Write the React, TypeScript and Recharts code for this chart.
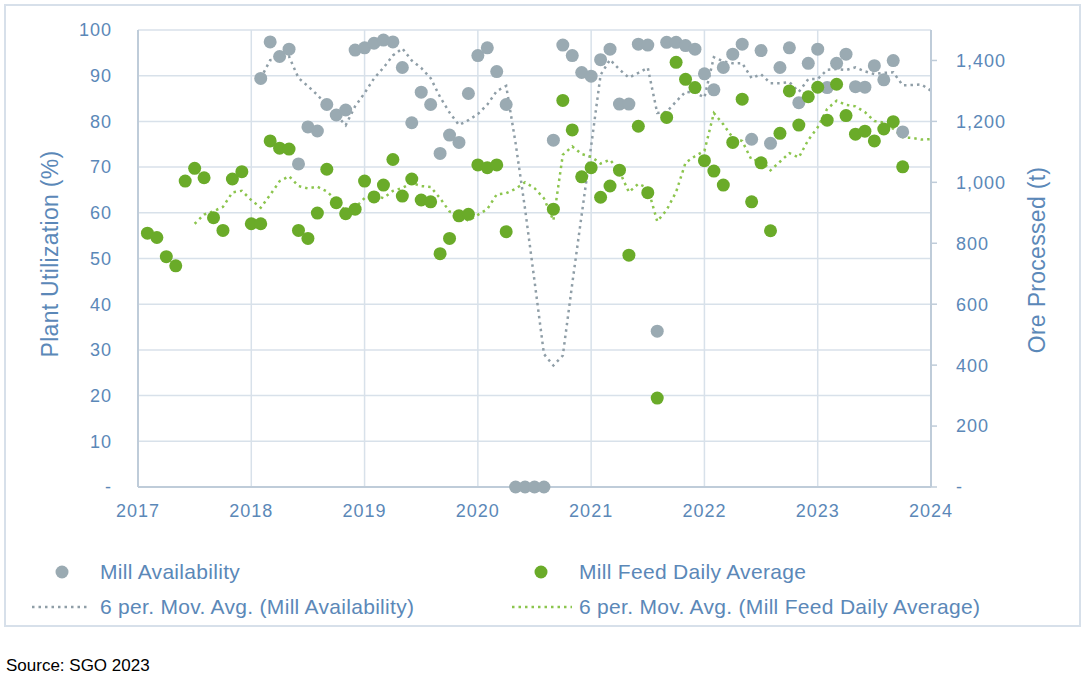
import React from "react";
import {
  ComposedChart,
  Scatter,
  Line,
  XAxis,
  YAxis,
  CartesianGrid,
} from "recharts";

// monthly readings, first entry = Feb 2017, last = Jan 2024 (null = no reading)
const millAvailability: (number | null)[] = [
  // 2017 Feb-Dec
  null, null, null, null, null, null, null, null, null, null, null,
  // 2018
  null, 89.4, 97.4, 94.2, 95.8, 70.7, 78.8, 77.9, 83.7, 81.4, 82.5, 95.6,
  // 2019
  96.1, 97.1, 97.8, 97.4, 91.8, 79.7, 86.4, 83.7, 73.0, 77.0, 75.4, 86.1,
  // 2020
  94.4, 96.1, 90.9, 83.7, 0, 0, 0, 0, 75.9, 96.7, 94.4, 90.7,
  // 2021
  89.9, 93.5, 95.8, 83.8, 83.8, 96.9, 96.7, 34.1, 97.3, 97.3, 96.6, 95.8,
  // 2022
  90.4, 86.9, 91.8, 94.7, 96.9, 76.1, 95.5, 75.2, 91.8, 96.1, 84.1, 92.7,
  // 2023
  95.8, 87.4, 92.7, 94.7, 87.6, 87.5, 92.2, 89.1, 93.3, 77.7, null, null,
  // 2024 Jan
  null,
];

// tonnes per day
const millFeed: (number | null)[] = [
  // 2017 Feb-Dec
  833, 819, 756, 726, 1004, 1046, 1015, 884, 842, 1011, 1035,
  // 2018
  864, 864, 1136, 1112, 1109, 842, 816, 899, 1043, 933, 897, 912,
  // 2019
  1004, 952, 991, 1075, 955, 1011, 942, 936, 766, 816, 890, 895,
  // 2020
  1057, 1048, 1057, 838, null, null, null, null, 912, 1269, 1172, 1018,
  // 2021
  1048, 951, 988, 1040, 761, 1184, 966, 292, 1213, 1394, 1338, 1311,
  // 2022
  1071, 1037, 991, 1131, 1273, 936, 1064, 841, 1161, 1300, 1188, 1281,
  // 2023
  1312, 1204, 1322, 1219, 1158, 1168, 1136, 1175, 1199, 1051, null, null,
  // 2024 Jan
  null,
];

const yearTicks = [2017, 2018, 2019, 2020, 2021, 2022, 2023, 2024];
const utilTicks = [0, 10, 20, 30, 40, 50, 60, 70, 80, 90, 100];
const oreTicks = [0, 200, 400, 600, 800, 1000, 1200, 1400];

const FONT = "'Liberation Sans', Arial, sans-serif";
const TEXT = "#5b88b8";
const GREY = "#9aaab2";
const GREEN = "#6aab29";
const GREY_MA = "#8f9ea7";
const GREEN_MA = "#8cc54e";
const GRID = "#d8e1ea";
const AXIS = "#bfccd9";

// Excel-style trailing moving average trendline (blanks skipped)
const movingAverage = (values: (number | null)[], period: number) =>
  values.map((_, i) => {
    if (i < period - 1) return null;
    const win = values
      .slice(i - period + 1, i + 1)
      .filter((v): v is number => v !== null);
    return win.length ? win.reduce((a, b) => a + b, 0) / win.length : null;
  });

const monthX = (i: number) => 2017 + (i + 1) / 12;

const availMa = movingAverage(millAvailability, 6);
const feedMa = movingAverage(millFeed, 6);

const rows = millAvailability.map((_, i) => ({
  x: monthX(i),
  availMa: availMa[i],
  feedMa: feedMa[i],
}));

const availPoints = millAvailability
  .map((v, i) => ({ x: monthX(i), v }))
  .filter((p) => p.v !== null);
const feedPoints = millFeed
  .map((v, i) => ({ x: monthX(i), v }))
  .filter((p) => p.v !== null);

const dash = (v: number, withComma: boolean) =>
  v === 0 ? "-" : withComma ? v.toLocaleString("en-US") : String(v);

const tickStyle = { fill: TEXT, fontSize: 18, fontFamily: FONT, letterSpacing: 1 };

const dot = (color: string) => (props: any) =>
  <circle cx={props.cx} cy={props.cy} r={6.5} fill={color} />;

const legendText: React.CSSProperties = {
  position: "absolute",
  color: TEXT,
  fontSize: 21,
  letterSpacing: 0.3,
  fontFamily: FONT,
  whiteSpace: "nowrap",
  transform: "translateY(-50%)",
};

const axisTitle: React.CSSProperties = {
  position: "absolute",
  transform: "translate(-50%, -50%) rotate(-90deg)",
  color: TEXT,
  fontSize: 23,
  letterSpacing: 0.3,
  whiteSpace: "nowrap",
};

export default function App() {
  return (
    <div
      style={{
        position: "absolute",
        left: 0,
        top: 0,
        width: 1087,
        height: 682,
        background: "#fff",
        fontFamily: FONT,
      }}
    >
      <div
        style={{
          position: "absolute",
          left: 4,
          top: 4,
          width: 1073,
          height: 619,
          border: "2px solid #d7e0ea",
        }}
      />
      <div style={{ position: "absolute", left: 0, top: 0 }}>
        <ComposedChart
          width={1087}
          height={540}
          data={rows}
          margin={{ top: 30, right: 0, bottom: 0, left: 0 }}
        >
          <CartesianGrid yAxisId="left" stroke={GRID} strokeWidth={1.5} />
          <XAxis
            dataKey="x"
            type="number"
            domain={[2017, 2024]}
            ticks={yearTicks}
            height={53}
            tickSize={0}
            tickMargin={17}
            tick={tickStyle}
            axisLine={{ stroke: AXIS, strokeWidth: 2 }}
          />
          <YAxis
            yAxisId="left"
            domain={[0, 100]}
            ticks={utilTicks}
            width={138}
            tickSize={0}
            tickMargin={26}
            tick={tickStyle}
            tickFormatter={(v) => dash(v, false)}
            axisLine={{ stroke: AXIS, strokeWidth: 2 }}
          />
          <YAxis
            yAxisId="right"
            orientation="right"
            domain={[0, 1500]}
            ticks={oreTicks}
            width={156}
            tickSize={6}
            tickMargin={19}
            tick={tickStyle}
            tickFormatter={(v) => dash(v, true)}
            tickLine={{ stroke: AXIS, strokeWidth: 1.5 }}
            axisLine={{ stroke: AXIS, strokeWidth: 2 }}
          />
          <Scatter
            yAxisId="left"
            data={availPoints}
            dataKey="v"
            fill={GREY}
            shape={dot(GREY)}
            isAnimationActive={false}
          />
          <Scatter
            yAxisId="right"
            data={feedPoints}
            dataKey="v"
            fill={GREEN}
            shape={dot(GREEN)}
            isAnimationActive={false}
          />
          <Line
            yAxisId="left"
            dataKey="availMa"
            type="linear"
            stroke={GREY_MA}
            strokeWidth={2.5}
            strokeDasharray="2.5 4"
            dot={false}
            activeDot={false}
            isAnimationActive={false}
          />
          <Line
            yAxisId="right"
            dataKey="feedMa"
            type="linear"
            stroke={GREEN_MA}
            strokeWidth={2.5}
            strokeDasharray="2.5 4"
            dot={false}
            activeDot={false}
            isAnimationActive={false}
          />
        </ComposedChart>
      </div>

      {/* axis titles */}
      <div style={{ ...axisTitle, left: 50, top: 254 }}>Plant Utilization (%)</div>
      <div style={{ ...axisTitle, left: 1037, top: 260 }}>Ore Processed (t)</div>

      {/* legend */}
      <svg
        width={1087}
        height={80}
        style={{ position: "absolute", left: 0, top: 550 }}
      >
        <circle cx={62} cy={22} r={6.5} fill={GREY} />
        <circle cx={541} cy={22} r={6.5} fill={GREEN} />
        <line x1={32} x2={90} y1={57} y2={57} stroke={GREY_MA} strokeWidth={2.5} strokeDasharray="2.5 4" />
        <line x1={512} x2={572} y1={57} y2={57} stroke={GREEN_MA} strokeWidth={2.5} strokeDasharray="2.5 4" />
      </svg>
      <div style={{ ...legendText, left: 100, top: 572 }}>Mill Availability</div>
      <div style={{ ...legendText, left: 579, top: 572 }}>Mill Feed Daily Average</div>
      <div style={{ ...legendText, left: 100, top: 607 }}>
        6 per. Mov. Avg. (Mill Availability)
      </div>
      <div style={{ ...legendText, left: 579, top: 607 }}>
        6 per. Mov. Avg. (Mill Feed Daily Average)
      </div>

      <div
        style={{
          position: "absolute",
          left: 6,
          top: 666,
          transform: "translateY(-50%)",
          fontSize: 17,
          color: "#000",
          whiteSpace: "nowrap",
        }}
      >
        Source: SGO 2023
      </div>
    </div>
  );
}
